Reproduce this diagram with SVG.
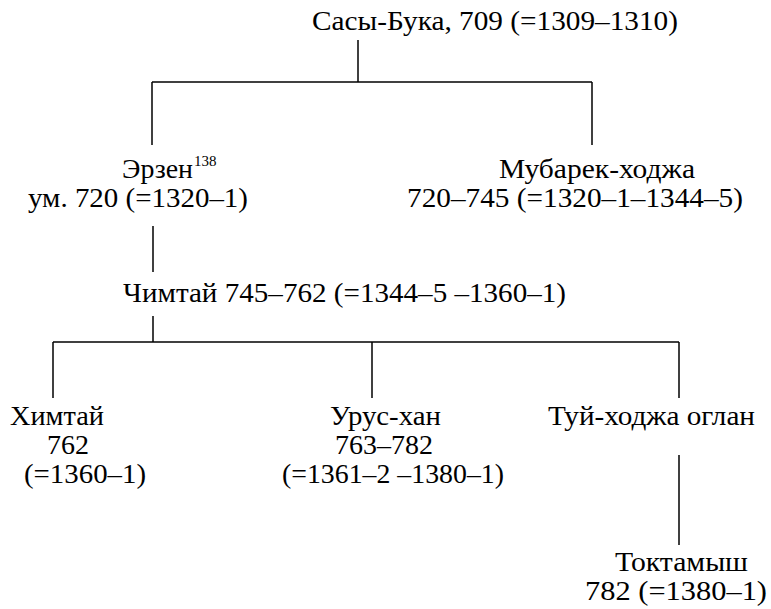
<svg xmlns="http://www.w3.org/2000/svg" width="771" height="609" viewBox="0 0 771 609">
<style>
.t{font-family:'Liberation Serif','Times New Roman',serif;font-size:27px;fill:#000}
.sup{font-family:'Liberation Serif','Times New Roman',serif;font-size:15px;fill:#000}
.c line{stroke:#000;stroke-width:1.5}
</style>
<rect width="771" height="609" fill="#fff"/>
<g id="connectors" class="c">
<line x1="358" y1="40" x2="358" y2="82"/>
<line x1="152" y1="82" x2="592" y2="82"/>
<line x1="152" y1="82" x2="152" y2="145"/>
<line x1="592" y1="82" x2="592" y2="145"/>
<line x1="153" y1="226" x2="153" y2="272"/>
<line x1="153" y1="316" x2="153" y2="342"/>
<line x1="53" y1="342" x2="679" y2="342"/>
<line x1="53" y1="342" x2="53" y2="398"/>
<line x1="372" y1="342" x2="372" y2="398"/>
<line x1="679" y1="342" x2="679" y2="398"/>
<line x1="679" y1="455" x2="679" y2="545"/>
</g>
<g id="sasy-buka"><text class="t" x="312" y="30" textLength="366" lengthAdjust="spacingAndGlyphs">Сасы-Бука, 709 (=1309–1310)</text></g>
<g id="erzen"><text class="t" x="122" y="178" textLength="71" lengthAdjust="spacingAndGlyphs">Эрзен</text><text class="sup" x="194" y="166">138</text><text class="t" x="28" y="207" textLength="220" lengthAdjust="spacingAndGlyphs">ум. 720 (=1320–1)</text></g>
<g id="mubarek"><text class="t" x="499" y="178" textLength="196" lengthAdjust="spacingAndGlyphs">Мубарек-ходжа</text><text class="t" x="407" y="207" textLength="336" lengthAdjust="spacingAndGlyphs">720–745 (=1320–1–1344–5)</text></g>
<g id="chimtai"><text class="t" x="123" y="302" textLength="443" lengthAdjust="spacingAndGlyphs">Чимтай 745–762 (=1344–5 –1360–1)</text></g>
<g id="khimtai"><text class="t" x="10" y="425" textLength="94" lengthAdjust="spacingAndGlyphs">Химтай</text><text class="t" x="47" y="454" textLength="42" lengthAdjust="spacingAndGlyphs">762</text><text class="t" x="24" y="483" textLength="122" lengthAdjust="spacingAndGlyphs">(=1360–1)</text></g>
<g id="urus"><text class="t" x="330" y="425" textLength="111" lengthAdjust="spacingAndGlyphs">Урус-хан</text><text class="t" x="335" y="454" textLength="98" lengthAdjust="spacingAndGlyphs">763–782</text><text class="t" x="282" y="483" textLength="222" lengthAdjust="spacingAndGlyphs">(=1361–2 –1380–1)</text></g>
<g id="tui"><text class="t" x="548" y="425" textLength="207" lengthAdjust="spacingAndGlyphs">Туй-ходжа оглан</text></g>
<g id="toktamysh"><text class="t" x="615" y="571" textLength="133" lengthAdjust="spacingAndGlyphs">Токтамыш</text><text class="t" x="585" y="600" textLength="182" lengthAdjust="spacingAndGlyphs">782 (=1380–1)</text></g>
</svg>
